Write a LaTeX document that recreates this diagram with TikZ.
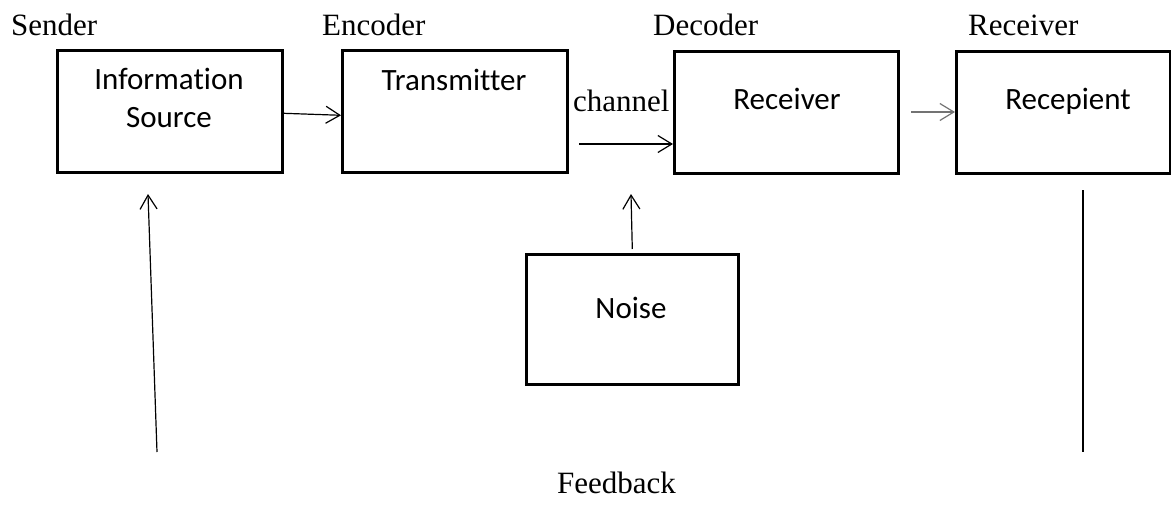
\documentclass[tikz,border=0pt]{standalone}
\usepackage{fontspec}
\setmainfont{Liberation Serif}
\newfontfamily\boxfont[Ligatures=NoCommon]{Carlito}
\usetikzlibrary{arrows.meta}
\begin{document}
\begin{tikzpicture}[x=1pt,y=-1pt,
  block/.style={draw, line width=2.6pt, anchor=north west, inner sep=0pt},
  lbl/.style={font=\fontsize{31}{36}\selectfont, inner sep=0pt, anchor=base west},
  btxt/.style={font=\boxfont\fontsize{31}{38}\selectfont, inner sep=0pt, anchor=base},
  tip/.style={-{Straight Barb[length=14pt,width=17pt,line width=1.2pt]}},
  link/.style={line width=1.2pt, tip}]
  \useasboundingbox (0,0) rectangle (1171,511);

  % stage boxes
  \node[block, minimum width=225pt, minimum height=122pt] (src) at (56,49) {};
  \node[block, minimum width=225pt, minimum height=122pt] (tx)  at (341,49) {};
  \node[block, minimum width=224pt, minimum height=122pt] (rx)  at (673,50) {};
  \node[block, minimum width=214pt, minimum height=122pt] (rp)  at (955,50) {};
  \node[block, minimum width=212pt, minimum height=130pt] (noise) at (525,253) {};

  % box texts
  \node[btxt] (srcA) at (169,90)  {Information};
  \node[btxt] (srcB) at (169,128) {Source};
  \node[btxt] (txT)  at (454,91)  {Transmitter};
  \node[btxt] (rxT)  at (787,110) {Receiver};
  \node[btxt] (rpT)  at (1068,110) {Recepient};
  \node[btxt] (nzT)  at (631,318) {Noise};

  % role labels
  \node[lbl] (lSender)  at (11,36)  {Sender};
  \node[lbl] (lEncoder) at (322,36) {Encoder};
  \node[lbl] (lDecoder) at (653,36) {Decoder};
  \node[lbl] (lRecv)    at (968,36) {Receiver};
  \node[lbl] (lChannel) at (573,112) {channel};
  \node[lbl] (lFeed)    at (557,493) {Feedback};

  % connector end points
  \coordinate (chIn)  at (579,144);
  \coordinate (rxOut) at (911,112);
  \coordinate (nzTop) at (631,194);
  \coordinate (fbL0)  at (157,452);
  \coordinate (fbL1)  at (148,194);
  \coordinate (fbR0)  at (1083,190);
  \coordinate (fbR1)  at (1083,452);

  % connectors
  \draw[link] ([yshift=-2pt]src.east) -- ([yshift=-4pt]tx.west);
  \draw[link] (chIn) -- (chIn -| rx.west);
  \draw[link, draw=black!55] (rxOut) -- (rxOut -| rp.west);
  \draw[link] ([yshift=4pt]noise.north) -- (nzTop);
  \draw[link] (fbL0) -- (fbL1);
  \draw[line width=1.2pt] (fbR0) -- (fbR1);
\end{tikzpicture}
\end{document}
